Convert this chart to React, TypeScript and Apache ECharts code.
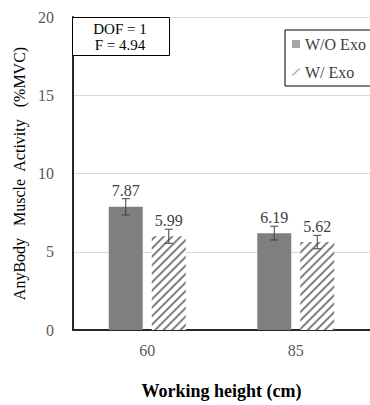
import React, { useEffect, useRef } from "react";
import * as echarts from "echarts";

const categories = ["60", "85"];
const seriesNames = ["W/O Exo", "W/ Exo"];
const woExo = [7.87, 6.19];
const wExo = [5.99, 5.62];
const woExoErr = [0.52, 0.44];
const wExoErr = [0.45, 0.43];
const yTicks = [0, 5, 10, 15, 20];
const annotation = ["DOF = 1", "F = 4.94"];

const FONT = "'Times New Roman', 'Liberation Serif', serif";
const BAR_W = 34;
const BAR_GAP = 9;

export default function App() {
  const ref = useRef<HTMLDivElement>(null);
  useEffect(() => {
    if (!ref.current) return;
    const chart = echarts.init(ref.current, undefined, { renderer: "svg" });
    const offset = (BAR_W + BAR_GAP) / 2;
    const errSeries = (vals: number[], errs: number[], dir: number, name: string) => ({
      type: "custom",
      name: name + " err",
      z: 5,
      silent: true,
      data: vals.map((v, i) => [i, v, errs[i]]),
      renderItem: (params: any, api: any) => {
        const ci = api.value(0);
        const v = api.value(1);
        const e = api.value(2);
        const top = api.coord([ci, v + e]);
        const bot = api.coord([ci, v - e]);
        const x = top[0] + dir * offset;
        const cap = 4;
        const style = { stroke: "#404040", lineWidth: 1 };
        return {
          type: "group",
          children: [
            { type: "line", shape: { x1: x, y1: top[1], x2: x, y2: bot[1] }, style },
            { type: "line", shape: { x1: x - cap, y1: top[1], x2: x + cap, y2: top[1] }, style },
            { type: "line", shape: { x1: x - cap, y1: bot[1], x2: x + cap, y2: bot[1] }, style },
          ],
        };
      },
    });
    const labelStyle = {
      show: true,
      position: "top",
      distance: 8,
      color: "#404040",
      fontSize: 16,
      fontFamily: FONT,
      formatter: (p: any) => p.value.toFixed(2),
    };
    chart.setOption({
      animation: false,
      textStyle: { fontFamily: FONT },
      grid: { left: 73, top: 17, width: 300, height: 314 },
      xAxis: {
        type: "category",
        data: categories,
        axisLine: { lineStyle: { color: "#262626", width: 2 } },
        axisTick: { show: false },
        axisLabel: { color: "#595959", fontSize: 16, fontFamily: FONT, margin: 12 },
        name: "Working height (cm)",
        nameLocation: "middle",
        nameGap: 52,
        nameTextStyle: { color: "#000", fontSize: 18, fontWeight: "bold", fontFamily: FONT },
      },
      yAxis: {
        type: "value",
        min: yTicks[0],
        max: yTicks[yTicks.length - 1],
        interval: 5,
        axisLine: { show: true, lineStyle: { color: "#262626", width: 2 } },
        axisTick: { show: false },
        splitLine: { lineStyle: { color: "#d9d9d9", width: 1 } },
        axisLabel: { color: "#595959", fontSize: 16, fontFamily: FONT, margin: 19 },
        name: "AnyBody   Muscle  Activity   (%MVC)",
        nameLocation: "middle",
        nameGap: 40,
        nameTextStyle: { color: "#000", fontSize: 16, fontFamily: FONT },
      },
      legend: {
        orient: "vertical",
        left: 285,
        top: 30,
        padding: [6, 30, 6, 7],
        itemGap: 12,
        itemWidth: 8,
        itemHeight: 8,
        borderColor: "#000",
        borderWidth: 1,
        textStyle: { color: "#404040", fontSize: 16, fontFamily: FONT },
        data: [
          { name: seriesNames[0], icon: "rect", itemStyle: { color: "#a6a6a6" } },
          {
            name: seriesNames[1],
            icon: "path://M0,9 L8,1 L9,2 L1,10 Z",
            itemStyle: { color: "#a6a6a6", decal: "none", borderWidth: 0 },
          },
        ],
      },
      graphic: [
        {
          type: "rect",
          shape: { x: 72.5, y: 17.5, width: 97, height: 38 },
          style: { fill: "#fff", stroke: "#000", lineWidth: 1 },
          z: 10,
        },
        {
          type: "text",
          x: 120,
          y: 29,
          z: 11,
          style: { text: annotation[0], fill: "#000", font: `15px ${FONT}`, align: "center", verticalAlign: "middle" },
        },
        {
          type: "text",
          x: 120,
          y: 45,
          z: 11,
          style: { text: annotation[1], fill: "#000", font: `15px ${FONT}`, align: "center", verticalAlign: "middle" },
        },
      ],
      series: [
        {
          type: "bar",
          name: seriesNames[0],
          data: woExo,
          barWidth: BAR_W,
          barGap: (BAR_GAP / BAR_W) * 100 + "%",
          itemStyle: { color: "#7f7f7f" },
          label: labelStyle,
        },
        {
          type: "bar",
          name: seriesNames[1],
          data: wExo,
          barWidth: BAR_W,
          itemStyle: {
            color: "#ffffff",
            decal: {
              symbol: "rect",
              symbolSize: 1,
              color: "#7f7f7f",
              dashArrayX: [1, 0],
              dashArrayY: [2, 4],
              rotation: -Math.PI / 4,
            },
          },
          label: labelStyle,
        },
        errSeries(woExo, woExoErr, -1, seriesNames[0]),
        errSeries(wExo, wExoErr, 1, seriesNames[1]),
      ],
    });
    return () => chart.dispose();
  }, []);
  return (
    <div
      ref={ref}
      style={{ position: "fixed", left: 0, top: 0, width: 370, height: 405, background: "#fff" }}
    />
  );
}
